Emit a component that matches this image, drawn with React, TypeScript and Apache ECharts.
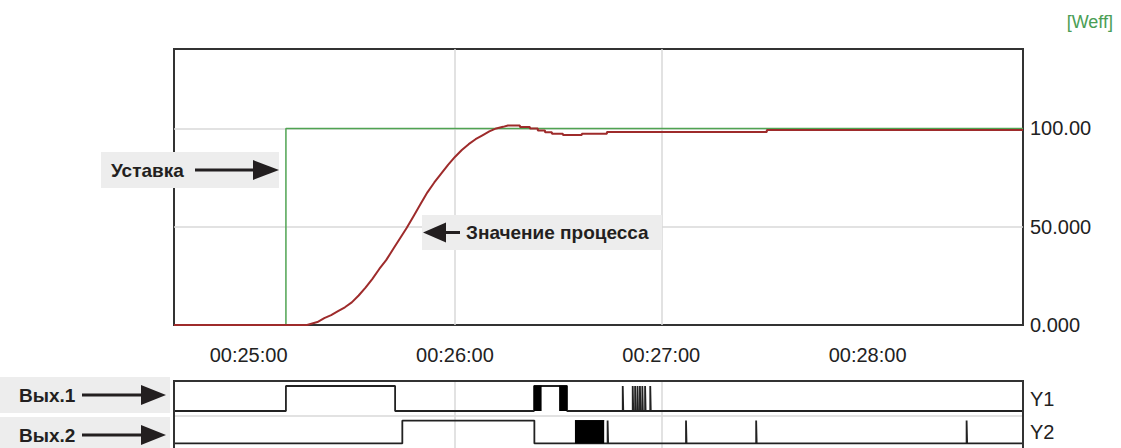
import React, { useEffect, useRef } from "react";
import * as echarts from "echarts";

// ---- axis ticks (seconds since 00:00:00) ----
const xTickValues = [1500, 1560, 1620, 1680];
const xTickLabels = ["00:25:00", "00:26:00", "00:27:00", "00:28:00"];
const yTickValues = [0, 50, 100];
const yTickLabels = ["0.000", "50.000", "100.00"];
const unitLabel = "[Weff]";
const trackLabels = ["Y1", "Y2"];

// ---- setpoint (Уставка) ----
const setpointTimes = [1478.3, 1510.85, 1510.85, 1725.2];
const setpointValues = [0, 0, 100, 100];

// ---- process value (Значение процесса) ----
const processTimes = [
  1478.3, 1517, 1518, 1520, 1522, 1524, 1526, 1528, 1530, 1532, 1534, 1536, 1538, 1540,
  1542, 1544, 1546, 1548, 1550, 1552, 1554, 1556, 1558, 1560, 1562, 1564, 1566, 1568,
  1570, 1572, 1574, 1575.4, 1578.9, 1578.9, 1581.8, 1581.8, 1584.1, 1584.1, 1586.2,
  1586.2, 1588.2, 1588.2, 1591.4, 1591.4, 1596.9, 1596.9, 1604.2, 1604.2, 1650.7,
  1650.7, 1725.2,
];
const processValues = [
  0, 0, 0.5, 1.5, 3.5, 5, 7, 9, 11.5, 15, 19, 23.5, 28.5, 33, 38.5, 44, 49.5, 55.5,
  61.5, 67.5, 72.5, 77, 81.5, 85.5, 89, 92, 94.5, 96.5, 98.5, 100, 100.8, 101.5, 101.5,
  100.7, 100.7, 100, 100, 99, 99, 98, 98, 97.3, 97.3, 96.7, 96.7, 97.3, 97.3, 98.2, 98.2,
  99.2, 99.2,
];

// ---- digital outputs ----
const y1Toggles = [1510.85, 1542.6, 1583.0, 1592.6];
const y1Blocks = [
  [1583.0, 1585.2],
  [1590.3, 1592.6],
];
const y1Pulses = [1608.8, 1611.7, 1612.4, 1613.1, 1613.8, 1614.5, 1615.3, 1616.8];

const y2Toggles = [1544.7, 1583.1];
const y2Blocks = [[1594.9, 1603.4]];
const y2Pulses = [1604.4, 1627.2, 1647.6, 1708.8];

const X_MIN = 1478.3;
const X_MAX = 1725.2;
const PULSE_W = 0.15;

function buildSignal(toggles: number[], pulses: number[]) {
  const changes: number[] = [...toggles];
  pulses.forEach((p) => {
    changes.push(p, p + PULSE_W);
  });
  changes.sort((a, b) => a - b);
  const pts: (number | string)[][] = [[X_MIN, 0]];
  let state = 0;
  changes.forEach((t) => {
    pts.push([t, state]);
    state = 1 - state;
    pts.push([t, state]);
  });
  pts.push([X_MAX, state]);
  return pts;
}

function buildBlocks(blocks: number[][]) {
  const pts: (number | string)[][] = [];
  blocks.forEach(([s, e]) => {
    pts.push([s, 1], [e, 1], [e, "-"]);
  });
  return pts;
}

const zip = (a: number[], b: number[]) => a.map((v, i) => [v, b[i]]);

const TICK_FONT = "'Liberation Sans Narrow', 'Liberation Sans', Arial, sans-serif";
const BOLD_FONT = "'Liberation Sans', Arial, sans-serif";
const GRID_COLOR = "#d9d9d9";
const INK = "#231f20";

export default function App() {
  const ref = useRef<HTMLDivElement>(null);

  useEffect(() => {
    if (!ref.current) return;
    const chart = echarts.init(ref.current, undefined, { renderer: "svg" });

    const xFormatter = (v: number) => {
      const i = xTickValues.findIndex((t) => Math.abs(t - v) < 0.01);
      return i >= 0 ? xTickLabels[i] : "";
    };
    const yFormatter = (v: number) => {
      const i = yTickValues.findIndex((t) => Math.abs(t - v) < 0.01);
      return i >= 0 ? yTickLabels[i] : "";
    };

    const trackX = (gridIndex: number) => ({
      type: "value",
      gridIndex,
      min: X_MIN,
      max: X_MAX,
      axisLine: { show: false },
      axisTick: { show: false, customValues: xTickValues },
      axisLabel: { show: false, customValues: xTickValues },
      splitLine: {
        show: true,
        showMinLine: false,
        showMaxLine: false,
        lineStyle: { color: GRID_COLOR, width: 1.5 },
      },
    });
    const trackY = (gridIndex: number, label: string) => ({
      type: "value",
      gridIndex,
      position: "right",
      min: -0.2,
      max: 1.2,
      interval: 0.7,
      axisLine: { show: false },
      axisTick: { show: false },
      splitLine: { show: false },
      axisLabel: {
        margin: 7,
        fontSize: 20,
        fontFamily: TICK_FONT,
        color: "#222",
        formatter: (v: number) => (Math.abs(v - 0.5) < 0.01 ? label : ""),
      },
    });

    const signalSeries = (idx: number, data: any[]) => ({
      type: "line",
      xAxisIndex: idx,
      yAxisIndex: idx,
      data,
      symbol: "none",
      lineStyle: { color: "#222", width: 1.8 },
      z: 3,
    });
    const blockSeries = (idx: number, data: any[]) => ({
      type: "line",
      xAxisIndex: idx,
      yAxisIndex: idx,
      data,
      symbol: "none",
      connectNulls: false,
      lineStyle: { color: "#000", width: 1 },
      areaStyle: { color: "#000", opacity: 1 },
      z: 4,
    });

    const annotation = (
      x: number,
      y: number,
      w: number,
      h: number,
      text: string,
      textX: number,
      arrow: { x1: number; x2: number; head: number[][] }
    ) => ({
      type: "group",
      silent: true,
      children: [
        {
          type: "rect",
          z: 100,
          shape: { x, y, width: w, height: h },
          style: { fill: "#ededed" },
        },
        {
          type: "text",
          z: 101,
          x: textX,
          y: y + h / 2,
          style: {
            text,
            fill: INK,
            fontSize: 19,
            fontWeight: "bold",
            fontFamily: BOLD_FONT,
            verticalAlign: "middle",
            align: "left",
          },
        },
        {
          type: "rect",
          z: 101,
          shape: { x: arrow.x1, y: y + h / 2 - 1.5, width: arrow.x2 - arrow.x1, height: 3 },
          style: { fill: INK },
        },
        { type: "polygon", z: 101, shape: { points: arrow.head }, style: { fill: INK } },
      ],
    });

    chart.setOption({
      animation: false,
      backgroundColor: "#ffffff",
      grid: [
        {
          left: 174,
          right: 98,
          top: 49,
          height: 276,
          show: true,
          borderColor: "#333",
          borderWidth: 2,
        },
        { left: 174, right: 98, top: 381, height: 35 },
        { left: 174, right: 98, top: 416, height: 35 },
      ],
      xAxis: [
        {
          type: "value",
          gridIndex: 0,
          min: X_MIN,
          max: X_MAX,
          axisLine: { show: false },
          axisTick: { show: false, customValues: xTickValues },
          axisLabel: {
            customValues: xTickValues,
            formatter: xFormatter,
            margin: 20,
            fontSize: 20,
            fontFamily: TICK_FONT,
            color: "#222",
          },
          splitLine: {
            show: true,
            showMinLine: false,
            showMaxLine: false,
            lineStyle: { color: GRID_COLOR, width: 1.5 },
          },
        },
        trackX(1),
        trackX(2),
      ],
      yAxis: [
        {
          type: "value",
          gridIndex: 0,
          position: "right",
          min: 0,
          max: 140.4,
          interval: 50,
          axisLine: { show: false },
          axisTick: { show: false },
          axisLabel: {
            formatter: yFormatter,
            margin: 7,
            fontSize: 20,
            fontFamily: TICK_FONT,
            color: "#222",
            showMaxLabel: false,
          },
          splitLine: {
            show: true,
            showMinLine: false,
            showMaxLine: false,
            lineStyle: { color: GRID_COLOR, width: 1.5 },
          },
        },
        trackY(1, trackLabels[0]),
        trackY(2, trackLabels[1]),
      ],
      series: [
        {
          name: "Уставка",
          type: "line",
          xAxisIndex: 0,
          yAxisIndex: 0,
          data: zip(setpointTimes, setpointValues),
          symbol: "none",
          lineStyle: { color: "#4fa352", width: 1.5 },
          z: 2,
        },
        {
          name: "Значение процесса",
          type: "line",
          xAxisIndex: 0,
          yAxisIndex: 0,
          data: zip(processTimes, processValues),
          symbol: "none",
          lineStyle: { color: "#9e2b2b", width: 2 },
          z: 3,
        },
        signalSeries(1, buildSignal(y1Toggles, y1Pulses)),
        blockSeries(1, buildBlocks(y1Blocks)),
        signalSeries(2, buildSignal(y2Toggles, y2Pulses)),
        blockSeries(2, buildBlocks(y2Blocks)),
      ],
      graphic: [
        {
          type: "text",
          right: 8,
          top: 13,
          style: {
            text: unitLabel,
            fill: "#4a9e55",
            fontSize: 18,
            fontFamily: "'Liberation Sans', Arial, sans-serif",
          },
        },
        {
          type: "rect",
          z: 10,
          silent: true,
          shape: { x: 174, y: 381, width: 849, height: 72 },
          style: { fill: "none", stroke: "#333", lineWidth: 2 },
        },
        {
          type: "line",
          z: 1,
          silent: true,
          shape: { x1: 175, y1: 416, x2: 1022, y2: 416 },
          style: { stroke: GRID_COLOR, lineWidth: 1.5 },
        },
        annotation(101, 152, 178, 36, "Уставка", 111, {
          x1: 195,
          x2: 256,
          head: [
            [253, 160],
            [279, 170],
            [253, 180],
          ],
        }),
        annotation(422, 215, 240, 35, "Значение процесса", 466, {
          x1: 443,
          x2: 460,
          head: [
            [423, 232.5],
            [446, 222.5],
            [446, 242.5],
          ],
        }),
        annotation(0, 377, 170, 36, "Вых.1", 19, {
          x1: 82,
          x2: 143,
          head: [
            [141, 385],
            [166, 395],
            [141, 405],
          ],
        }),
        annotation(0, 417, 170, 36, "Вых.2", 19, {
          x1: 82,
          x2: 143,
          head: [
            [141, 425],
            [166, 435],
            [141, 445],
          ],
        }),
      ],
    });

    return () => chart.dispose();
  }, []);

  return (
    <div
      ref={ref}
      style={{ position: "absolute", left: 0, top: 0, width: 1121, height: 448 }}
    />
  );
}
